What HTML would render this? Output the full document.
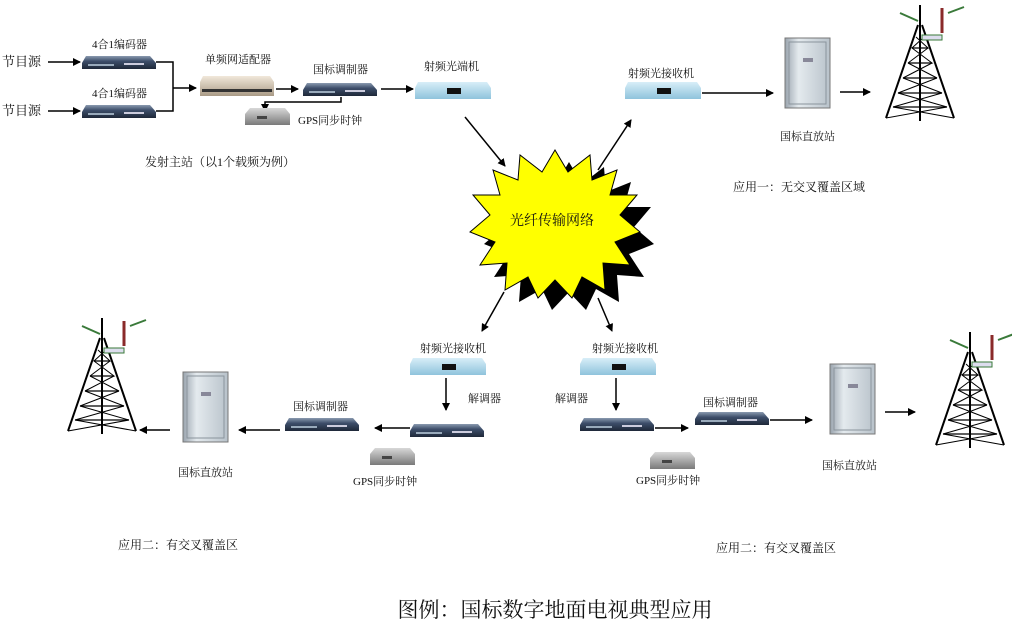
<!DOCTYPE html>
<html><head><meta charset="utf-8">
<style>
html,body{margin:0;padding:0;background:#fff;}
svg{display:block;}
text{font-family:"Liberation Serif","Noto Serif CJK SC",serif;font-size:11px;fill:#111;}
</style></head><body>
<svg width="1012" height="629" viewBox="0 0 1012 629" xmlns="http://www.w3.org/2000/svg">
<defs>
<marker id="ah" markerWidth="8" markerHeight="8" refX="7" refY="4" orient="auto" markerUnits="userSpaceOnUse">
<path d="M0,0 L8,4 L0,8 z" fill="#000"/></marker>
<linearGradient id="dk" x1="0" y1="0" x2="0" y2="1"><stop offset="0" stop-color="#8a9ab0"/><stop offset="0.4" stop-color="#3d4e6a"/><stop offset="1" stop-color="#1e2838"/></linearGradient>
<linearGradient id="lb" x1="0" y1="0" x2="0" y2="1"><stop offset="0" stop-color="#d8eef8"/><stop offset="1" stop-color="#8fc3dc"/></linearGradient>
<linearGradient id="bg" x1="0" y1="0" x2="0" y2="1"><stop offset="0" stop-color="#f1e8da"/><stop offset="1" stop-color="#a99a86"/></linearGradient>
<linearGradient id="gr" x1="0" y1="0" x2="0" y2="1"><stop offset="0" stop-color="#d8d8d8"/><stop offset="1" stop-color="#7a7a7a"/></linearGradient>
<linearGradient id="cab" x1="0" y1="0" x2="1" y2="0"><stop offset="0" stop-color="#9aa4ae"/><stop offset="0.3" stop-color="#e4eaee"/><stop offset="1" stop-color="#b8c2ca"/></linearGradient>
<g id="dev"><path d="M4,0 L68,0 L74,7 L74,13 L0,13 L0,7 z" fill="url(#dk)"/><rect x="6" y="8" width="26" height="2" fill="#9ab"/><rect x="42" y="7" width="20" height="2" fill="#ccd"/></g>
<g id="rx"><path d="M3,0 L72,0 L76,6 L76,17 L0,17 L0,6 z" fill="url(#lb)"/><rect x="32" y="6" width="14" height="6" fill="#111"/></g>
<g id="gps"><path d="M5,0 L40,0 L45,6 L45,17 L0,17 L0,6 z" fill="url(#gr)"/><rect x="12" y="8" width="10" height="3" fill="#444"/></g>
<g id="cabinet"><rect x="0" y="0" width="45" height="70" fill="url(#cab)" stroke="#777" stroke-width="1"/><rect x="4" y="4" width="37" height="62" fill="none" stroke="#8a949c"/><rect x="18" y="20" width="10" height="4" fill="#889"/></g>
<g id="tower" stroke="#000" stroke-width="2" fill="none">
<line x1="40" y1="2" x2="40" y2="22"/>
<line x1="38" y1="22" x2="6" y2="115"/><line x1="42" y1="22" x2="74" y2="115"/><line x1="40" y1="22" x2="40" y2="118"/>
<path d="M32,45 L48,45 M28,60 L52,60 M23,75 L57,75 M18,90 L62,90 M13,104 L67,104" stroke-width="1.2"/>
<path d="M36,34 L48,45 L32,45 L52,60 L28,60 L57,75 L23,75 L62,90 L18,90 L67,104 L13,104 L74,115 M44,34 L32,45 M48,45 L28,60 M52,60 L23,75 M57,75 L18,90 M62,90 L13,104 M67,104 L6,115" stroke-width="1"/>
<line x1="20" y1="10" x2="38" y2="18" stroke="#3a7a3a" stroke-width="2"/>
<line x1="68" y1="10" x2="84" y2="4" stroke="#3a7a3a" stroke-width="2"/>
<line x1="62" y1="5" x2="62" y2="30" stroke="#8a2a2a" stroke-width="3"/>
<rect x="42" y="32" width="20" height="5" stroke="#3a7a3a" stroke-width="1" fill="#dde"/>
</g>
</defs>

<g stroke="#000" stroke-width="1.5" fill="none">
<line x1="48" y1="62" x2="80" y2="62" marker-end="url(#ah)"/>
<line x1="48" y1="111" x2="80" y2="111" marker-end="url(#ah)"/>
<polyline points="156,62 173,62 173,111 156,111"/>
<line x1="173" y1="88" x2="196" y2="88" marker-end="url(#ah)"/>
<line x1="276" y1="89" x2="298" y2="89" marker-end="url(#ah)"/>
<polyline points="341,97 341,102 265,102 265,111" marker-end="url(#ah)"/>
<line x1="381" y1="89" x2="413" y2="89" marker-end="url(#ah)"/>
<line x1="465" y1="117" x2="505" y2="166" marker-end="url(#ah)"/>
<line x1="598" y1="170" x2="631" y2="120" marker-end="url(#ah)"/>
<line x1="702" y1="93" x2="773" y2="93" marker-end="url(#ah)"/>
<line x1="840" y1="92" x2="870" y2="92" marker-end="url(#ah)"/>
<line x1="504" y1="292" x2="482" y2="331" marker-end="url(#ah)"/>
<line x1="598" y1="298" x2="612" y2="331" marker-end="url(#ah)"/>
<line x1="446" y1="378" x2="446" y2="410" marker-end="url(#ah)"/>
<line x1="410" y1="428" x2="375" y2="428" marker-end="url(#ah)"/>
<line x1="280" y1="430" x2="239" y2="430" marker-end="url(#ah)"/>
<line x1="170" y1="430" x2="140" y2="430" marker-end="url(#ah)"/>
<line x1="616" y1="378" x2="616" y2="410" marker-end="url(#ah)"/>
<line x1="655" y1="428" x2="688" y2="428" marker-end="url(#ah)"/>
<line x1="770" y1="420" x2="812" y2="420" marker-end="url(#ah)"/>
<line x1="885" y1="412" x2="915" y2="412" marker-end="url(#ah)"/>
</g>

<use href="#dev" x="82" y="56"/><use href="#dev" x="82" y="105"/>
<path d="M203,76 L270,76 L274,82 L274,96 L200,96 L200,82 z" fill="url(#bg)"/><rect x="202" y="89" width="70" height="3" fill="#333"/>
<use href="#dev" x="303" y="83"/>
<use href="#gps" x="245" y="108"/>
<use href="#rx" x="415" y="82"/>
<use href="#rx" x="625" y="82"/>
<use href="#cabinet" x="785" y="38"/>
<use href="#tower" x="880" y="3"/>

<use href="#rx" x="410" y="358"/>
<use href="#dev" x="410" y="424"/>
<use href="#gps" x="370" y="448"/>
<use href="#dev" x="285" y="418"/>
<use href="#cabinet" x="183" y="372"/>
<use href="#tower" x="62" y="316"/>

<use href="#rx" x="580" y="358"/>
<use href="#dev" x="580" y="418"/>
<use href="#gps" x="650" y="452"/>
<use href="#dev" x="695" y="412"/>
<use href="#cabinet" x="830" y="364"/>
<use href="#tower" x="930" y="330"/>

<!-- starburst -->
<g>
<polygon transform="translate(14,12)" fill="#000" points="555,150 568,172 590,155 592,180 617,170 610,195 637,195 620,215 640,232 615,242 630,265 603,263 605,290 582,277 572,298 555,280 538,298 528,277 505,290 507,263 480,265 495,242 470,232 490,215 473,195 500,195 493,170 518,180 520,155 542,172"/>
<polygon fill="#ffff00" stroke="#000" stroke-width="1" points="555,150 568,172 590,155 592,180 617,170 610,195 637,195 620,215 640,232 615,242 630,265 603,263 605,290 582,277 572,298 555,280 538,298 528,277 505,290 507,263 480,265 495,242 470,232 490,215 473,195 500,195 493,170 518,180 520,155 542,172"/>
<text x="552" y="225" text-anchor="middle" style="font-size:14px">光纤传输网络</text>
</g>

<text x="2" y="66" style="font-size:13px">节目源</text>
<text x="2" y="115" style="font-size:13px">节目源</text>
<text x="92" y="48">4合1编码器</text>
<text x="92" y="97">4合1编码器</text>
<text x="205" y="63">单频网适配器</text>
<text x="313" y="73">国标调制器</text>
<text x="298" y="124">GPS同步时钟</text>
<text x="424" y="70">射频光端机</text>
<text x="628" y="77">射频光接收机</text>
<text x="780" y="140">国标直放站</text>
<text x="145" y="166" style="font-size:12px">发射主站（以1个载频为例）</text>
<text x="733" y="191" style="font-size:12px">应用一：无交叉覆盖区域</text>

<text x="420" y="352">射频光接收机</text>
<text x="468" y="402">解调器</text>
<text x="293" y="410">国标调制器</text>
<text x="353" y="485">GPS同步时钟</text>
<text x="178" y="476">国标直放站</text>
<text x="118" y="549" style="font-size:12px">应用二：有交叉覆盖区</text>

<text x="592" y="352">射频光接收机</text>
<text x="555" y="402">解调器</text>
<text x="703" y="406">国标调制器</text>
<text x="636" y="484">GPS同步时钟</text>
<text x="822" y="469">国标直放站</text>
<text x="716" y="552" style="font-size:12px">应用二：有交叉覆盖区</text>

<text x="555" y="617" text-anchor="middle" style="font-size:21px">图例：国标数字地面电视典型应用</text>
</svg>
</body></html>
